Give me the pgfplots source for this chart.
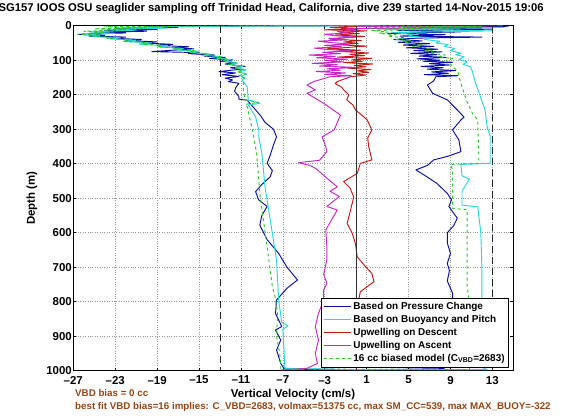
\documentclass[border=0pt]{standalone}
\usepackage{fontspec}
\setmainfont{Liberation Sans}
\usepackage{pgfplots}
\pgfplotsset{compat=1.18}
\definecolor{cBlue}{RGB}{10,15,165}
\definecolor{cCyan}{RGB}{40,215,220}
\definecolor{cRed}{RGB}{200,25,25}
\definecolor{cMag}{RGB}{200,40,200}
\definecolor{cGreen}{RGB}{40,200,40}
\definecolor{cBrown}{RGB}{150,70,20}
\begin{document}
\begin{tikzpicture}[x=1bp,y=1bp]
\useasboundingbox (0,0) rectangle (570,415);
\begin{axis}[
  at={(73.3bp,44.3bp)}, anchor=south west,
  scale only axis, width=440bp, height=345bp,
  xmin=-27, xmax=15, ymin=0, ymax=1000,
  y dir=reverse,
  xtick={-27,-23,-19,-15,-11,-7,-3,1,5,9,13},
  xticklabels={–27,–23,–19,–15,–11,–7,–3,1,5,9,13},
  ytick={0,100,200,300,400,500,600,700,800,900,1000},
  yticklabels={0,100,200,300,400,500,600,700,800,900,1000},
  ticklabel style={font=\bfseries\fontsize{11.5}{13}\selectfont},
  yticklabel style={xshift=2bp, inner ysep=0.5pt},
  xticklabel style={inner xsep=0.5pt, yshift=-1.8bp},
  tick align=inside, major tick length=3bp,
  grid=major, grid style={dotted, gray!80, line width=0.6pt},
  axis line style={line width=0.7pt},
  every tick/.style={black, line width=0.6pt},
  legend cell align=left,
  legend style={at={(0.99,0.01)}, anchor=south east, draw=black, fill=white,
    font=\bfseries\fontsize{10}{11.5}\selectfont, inner sep=2pt, row sep=0.3pt, line width=0.6pt},
  legend image code/.code={\draw[#1] (0bp,0bp) -- (27bp,0bp);},
  every axis plot/.append style={line width=0.95pt, line join=round},
]
% Based on Pressure Change (descent then ascent)
\addplot[cBlue] coordinates {
(0,0) (-12,1) (-20,3) (-17,5) (-23,8) (-19,11) (-24,14) (-20,16) (-25,19) (-22,21) (-26.5,25) (-24,28) (-25.5,30) (-22,33) (-23.5,36) (-20.5,40) (-22,43) (-19,47) (-20.5,50) (-17.5,54) (-19,57) (-16,61) (-17.5,64) (-15.5,67) (-17,70) (-19.5,75) (-15,78) (-16,81) (-13.5,85) (-14.5,88) (-12.5,92) (-14,95) (-11.8,99) (-13,103) (-11.5,107) (-12.5,111) (-10.6,118) (-12,122) (-11,126) (-13.1,133) (-11.5,137) (-12.8,142) (-11.2,147) (-12.5,152) (-11.8,157) (-12.2,162) (-11.2,167) (-11.5,180) (-11.6,190) (-11.2,205) (-11.2,213) (-10.4,216) (-10,230) (-9.6,244) (-9.1,262) (-8.7,280) (-7.9,300) (-7.6,322) (-7.9,346) (-8.2,375) (-8.5,399) (-8.0,420) (-8.2,438) (-9.0,460) (-9.6,481) (-9.3,505) (-8.5,524) (-9.0,550) (-9.2,578) (-8.5,620) (-7.4,660) (-6.6,700) (-5.6,737) (-6.6,761) (-7.6,795) (-7.7,834) (-7.1,872) (-7.7,882) (-7.2,911) (-7.6,940) (-7.2,979) (-6.9,993) (-5,996) (2,997) (8.4,994)
(8.4,990) (8.6,960) (9.2,930) (8.9,900) (9.1,870) (8.8,840) (9.2,810) (9.2,775) (8.7,740) (8.9,710) (8.7,689) (9.0,660) (8.7,630) (8.7,600) (9.3,580) (9.65,558) (8.85,524) (9.1,505) (8.7,486) (7.7,457) (6.6,435) (5.7,418) (6.8,405) (7.4,389) (8.8,378) (10.0,365) (9.8,331) (9.2,302) (10.0,273) (10.3,265) (9.65,244) (8.7,215) (7.3,196) (6.8,172) (7.4,160) (7.6,148)
(9.7,145) (6.5,142) (8.8,138) (7.2,134) (9.5,130) (6.8,126) (8.3,122) (6.2,118) (8.9,114) (7,110) (9.2,106) (6.4,103) (8,100) (5.8,96) (8.6,92) (6,88) (7.7,84) (5.2,80) (8.2,76) (5.5,72) (7.8,68) (4.8,64) (7.4,60) (4.5,56) (7,52) (4,48) (6.3,44) (3.6,40) (5.8,36) (12,33) (4.2,30) (8.5,26) (3,22) (10,18) (4,14) (13,10) (5,6) (14.5,3) (2,1) (0,0)
};
\addlegendentry{Based on Pressure Change}
% Based on Buoyancy and Pitch
\addplot[cCyan] coordinates {
(0,0) (-10,1) (-22,4) (-18,7) (-24,10) (-21,13) (-25.5,18) (-23,22) (-26,26) (-24.5,29) (-25,32) (-22.5,35) (-23.5,38) (-21,42) (-22,46) (-19.5,50) (-20.5,54) (-18,58) (-18.8,62) (-16.5,66) (-17.2,70) (-15,74) (-15.8,78) (-14,82) (-14.5,86) (-12.8,90) (-13.4,94) (-12,98) (-12.5,103) (-11.3,108) (-12,113) (-10.8,118) (-11.5,123) (-10.5,128) (-11.2,134) (-10.4,140) (-11.0,146) (-10.6,152) (-10.9,157) (-10.4,177) (-10.3,215) (-9.2,225) (-10.3,230) (-9.6,264) (-9.3,302) (-9.3,322) (-9.0,370) (-8.7,467) (-8.2,563) (-7.6,679) (-7.4,795) (-7.1,860) (-6.5,870) (-7.0,880) (-6.9,930) (-6.8,993) (0,997) (12.5,997)
(12.0,990) (12.0,900) (12.0,800) (12.0,700) (11.9,600) (11.6,525) (10.1,520) (10.1,480) (10.8,445) (10.1,435) (10.0,402) (12.8,399) (12.8,320) (12.5,293) (12.3,244) (11.8,201) (11.4,167) (11.1,133) (10.9,119)
(10.2,112) (10.6,105) (9.8,98) (10.3,90) (9.5,84) (10,80) (9.0,72) (9.4,66) (8.4,60) (8.8,55) (7.6,50) (8,45) (6.5,40) (7,35) (5,30) (5.5,25) (3.5,20) (13,15) (2,10) (14,5) (0,0)
};
\addlegendentry{Based on Buoyancy and Pitch}
% Upwelling on Descent
\addplot[cRed] coordinates {
(14,0) (-0.5,2) (-2.5,5) (0.5,8) (-3,12) (1,15) (-1.5,19) (0.3,23) (-2,27) (0.8,31) (-1,35) (-2.5,39) (0.5,43) (-1.2,47) (0.2,51) (-2.0,55) (1.0,59) (-0.8,63) (-2.8,67) (0.4,71) (-1.4,75) (1.2,79) (-0.6,83) (0.8,87) (-1.8,91) (1.5,95) (-0.4,99) (0.6,103) (-1.2,107) (1.6,111) (-0.2,115) (0.9,119) (-0.8,123) (1.4,127) (0.1,131) (1.2,135) (-0.3,139) (0.9,143) (-0.55,148) (-1.8,162) (-2.0,168) (-1.4,178) (-1.2,186) (-0.7,200) (-0.9,215) (-0.3,230) (-0.07,244) (0.72,264) (1.05,273) (1.5,302) (1.1,325) (1.2,351) (1.5,389) (0.4,399) (0.1,428) (-1.2,452) (-0.6,470) (-0.23,496) (-0.5,530) (-0.86,573) (-0.4,600) (-0.07,631) (0.1,670) (0.8,695) (1.5,718) (1.7,742) (0.4,771) (0.2,800) (0.5,850) (0.3,900) (0.6,950) (0.2,990)
};
\addlegendentry{Upwelling on Descent}
% Upwelling on Ascent
\addplot[cMag] coordinates {
(-7.2,998) (-4.7,993) (-3.7,979) (-3.9,950) (-3.6,911) (-3.9,872) (-3.6,834) (-3.1,795) (-3.1,766) (-2.8,747) (-3.1,720) (-2.8,679) (-2.8,640) (-2.9,592) (-1.8,534) (-2.8,524) (-1.6,495) (-2.5,480) (-1.8,467) (-2.8,442) (-3.8,415) (-4.4,405) (-5.5,397) (-3.5,390) (-2.8,365) (-2.9,351) (-3.25,322) (-2.1,302) (-1.5,259) (-3.1,225) (-4.7,196) (-3.9,186) (-4.7,172) (-4.05,162) (-2.5,148)
(-0.5,145) (-3,141) (-1,137) (-3.8,133) (-1.5,129) (-2.8,125) (0.2,121) (-3.5,117) (-1.8,113) (-4.2,109) (-1.2,105) (-3,101) (-0.8,97) (-3.8,93) (-2,89) (-4.5,85) (-1.5,81) (-3.2,77) (-0.5,73) (-2.8,69) (-4,65) (-1.4,61) (-3,57) (-0.6,53) (-2.4,49) (-3.6,45) (-1,41) (-2.6,37) (-0.2,33) (-2,29) (-3,25) (-0.8,21) (-1.8,17) (0.2,13) (-1,9) (12,5) (0,2)
};
\addlegendentry{Upwelling on Ascent}
% 16 cc biased model
\addplot[cGreen, dashed] coordinates {
(0,0) (-14,1) (-24,3) (-20,6) (-25,9) (-22,12) (-26,16) (-24,20) (-26.6,25) (-24.5,28) (-25.2,31) (-23,34) (-23.8,37) (-21.5,41) (-22.3,45) (-20,49) (-20.7,53) (-18.3,57) (-19,61) (-16.8,65) (-17.5,69) (-15.3,73) (-16,77) (-14.2,81) (-14.8,85) (-13,89) (-13.6,93) (-12.2,97) (-12.8,102) (-11.5,107) (-12.2,112) (-11.0,117) (-11.7,122) (-10.7,127) (-11.4,133) (-10.6,139) (-11.2,145) (-10.7,152) (-10.8,177) (-10.6,215) (-9.3,222) (-10.6,228) (-10.4,235) (-9.9,302) (-9.5,370) (-9.2,486) (-8.5,641) (-8.0,756) (-7.7,790) (-7.5,834) (-7.6,900) (-7.3,950) (-7.2,985) (-7.2,995) (10.8,997)
(10.8,990) (10.7,900) (10.8,800) (10.6,756) (10.6,660) (10.6,563) (10.6,533) (9.2,530) (9.2,480) (9.2,418) (9.0,402) (11.7,399) (11.7,370) (11.6,273) (11.1,254) (10.5,215) (10.0,167) (9.7,133) (8.6,100)
(9.2,95) (7.8,90) (8.5,85) (7.0,80) (7.8,75) (6.2,70) (7,65) (5.4,60) (6.3,55) (4.6,50) (5.5,45) (3.8,40) (4.6,35) (3,30) (3.8,26) (2.2,22) (3,18) (1.5,14) (10,10) (1,6) (12,3) (0,0)
};
\addlegendentry{16 cc biased model (C\textsubscript{VBD}=2683)}
% reference lines
\addplot[forget plot, black!85, line width=0.8pt, dash pattern=on 7bp off 4bp] coordinates {(-13,0) (-13,1000)};
\addplot[forget plot, black!85, line width=0.8pt, dash pattern=on 7bp off 4bp] coordinates {(13,0) (13,1000)};
\addplot[forget plot, black!80, line width=0.9pt] coordinates {(0,0) (0,1000)};
\end{axis}
\node[anchor=west, font=\bfseries\fontsize{11.3}{13}\selectfont, inner sep=0] at (-1.5,406) {SG157 IOOS OSU seaglider sampling off Trinidad Head, California, dive 239 started 14-Nov-2015 19:06};
\node[font=\bfseries\fontsize{11.5}{13}\selectfont, inner sep=0] at (293,20) {Vertical Velocity (cm/s)};
\node[font=\bfseries\fontsize{11.5}{13}\selectfont, inner sep=0, rotate=90] at (32,217) {Depth (m)};
\node[anchor=west, font=\bfseries\fontsize{9.8}{11}\selectfont, text=cBrown, inner sep=0] at (75,21.5) {VBD bias = 0 cc};
\node[anchor=west, font=\bfseries\fontsize{9.8}{11}\selectfont, text=cBrown, inner sep=0] at (75,8) {best fit VBD bias=16 implies: C\_VBD=2683, volmax=51375 cc, max SM\_CC=539, max MAX\_BUOY=-322};
\end{tikzpicture}
\end{document}
